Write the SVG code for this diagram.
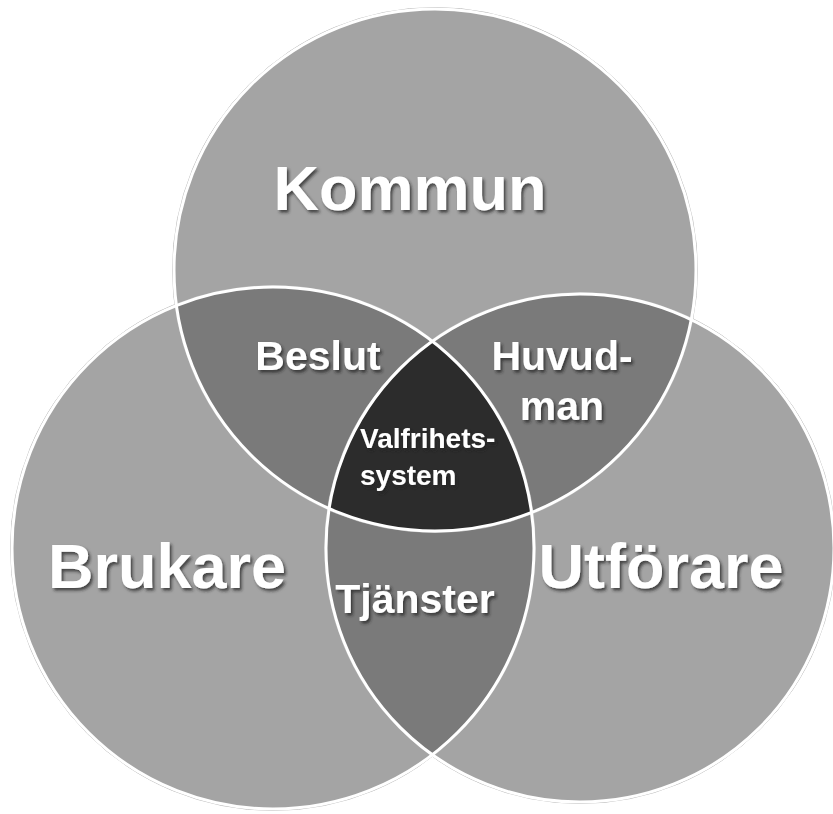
<svg xmlns="http://www.w3.org/2000/svg" width="833" height="814" viewBox="0 0 833 814">
<style>
.base{fill:#a4a4a4}
.dbl{fill:#7a7a7a}
.tri{fill:#2c2c2c}
.edge{fill:none;stroke:#ffffff;stroke-width:3}
.rim{fill:none;stroke:#b8b8b8;stroke-width:1}
text{font-family:"Liberation Sans",Arial,sans-serif;font-weight:bold;fill:#ffffff;filter:url(#sh)}
.big{font-size:63px}
.mid{font-size:41px}
.sm{font-size:28px}
</style>
<defs>
<filter id="sh" x="-10%" y="-20%" width="130%" height="150%">
<feDropShadow dx="2" dy="2.5" stdDeviation="1.5" flood-color="#222" flood-opacity="0.75"/>
</filter>
<clipPath id="cK"><circle cx="435" cy="270" r="261"/></clipPath>
<clipPath id="cB"><circle cx="273" cy="548" r="261"/></clipPath>
<clipPath id="cU"><circle cx="580" cy="548" r="254"/></clipPath>
</defs>
<rect width="833" height="814" fill="#ffffff"/>
<g id="circles">
<g id="kommun-circle"><circle class="base" cx="435" cy="270" r="261"/></g>
<g id="brukare-circle"><circle class="base" cx="273" cy="548" r="261"/></g>
<g id="utforare-circle"><circle class="base" cx="580" cy="548" r="254"/></g>
<g id="beslut-region" clip-path="url(#cK)"><circle class="dbl" cx="273" cy="548" r="261"/></g>
<g id="huvudman-region" clip-path="url(#cK)"><circle class="dbl" cx="580" cy="548" r="254"/></g>
<g id="tjanster-region" clip-path="url(#cB)"><circle class="dbl" cx="580" cy="548" r="254"/></g>
<g id="valfrihet-region" clip-path="url(#cK)"><g clip-path="url(#cB)"><circle class="tri" cx="580" cy="548" r="254"/></g></g>
</g>
<g id="outlines">
<circle class="rim" cx="435" cy="270" r="262.5"/>
<circle class="rim" cx="273" cy="548" r="262.5"/>
<circle class="rim" cx="580" cy="548" r="255.5"/>
<circle class="edge" cx="435" cy="270" r="261"/>
<circle class="edge" cx="273" cy="548" r="261"/>
<circle class="edge" cx="580" cy="548" r="254"/>
</g>
<g id="labels">
<text class="big" x="410" y="210" text-anchor="middle">Kommun</text>
<text class="big" x="167" y="588" text-anchor="middle">Brukare</text>
<text class="big" x="661" y="588" text-anchor="middle">Utförare</text>
<text class="mid" x="318" y="370" text-anchor="middle">Beslut</text>
<text class="mid" x="562" y="370" text-anchor="middle">Huvud-</text>
<text class="mid" x="562" y="420" text-anchor="middle">man</text>
<text class="mid" x="415" y="613" text-anchor="middle">Tjänster</text>
<text class="sm" x="360" y="448">Valfrihets-</text>
<text class="sm" x="360" y="485">system</text>
</g>
</svg>
